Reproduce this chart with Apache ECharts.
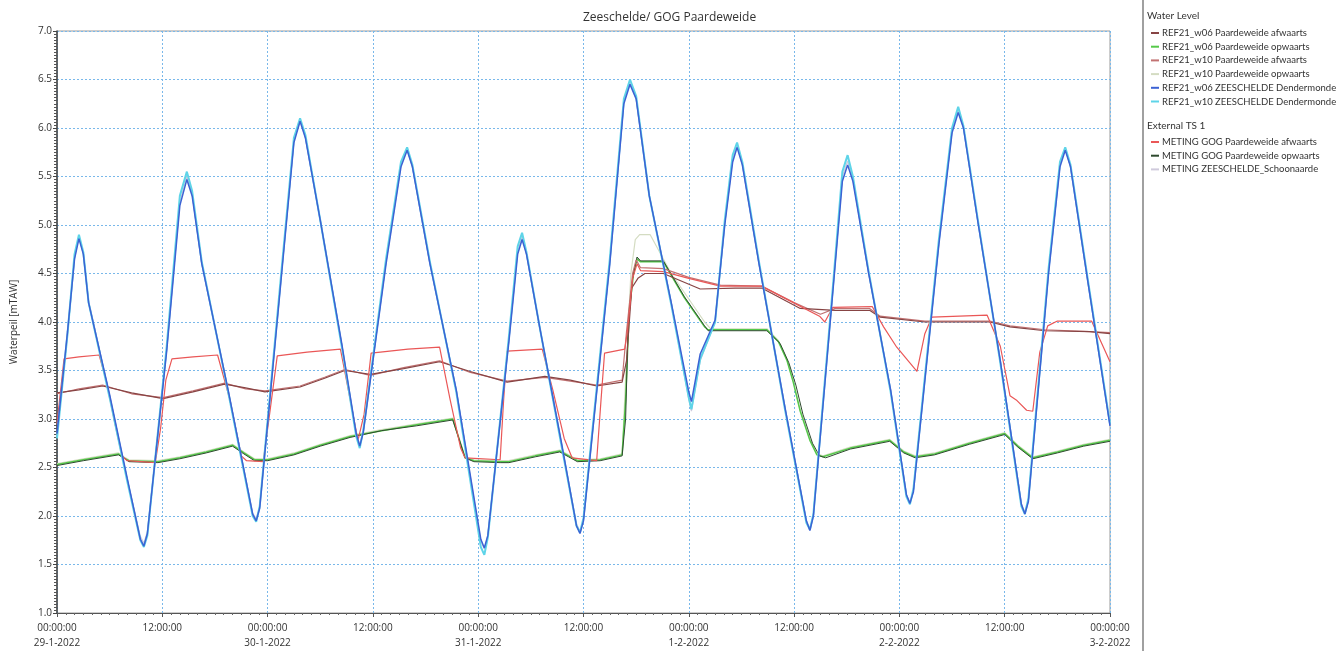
<!DOCTYPE html>
<html>
<head>
<meta charset="utf-8">
<title>Zeeschelde/ GOG Paardeweide</title>
<script src="https://cdn.jsdelivr.net/npm/echarts@6/dist/echarts.min.js"></script>
<style>
  html, body { margin: 0; padding: 0; background: #fff; }
  #chart { width: 1344px; height: 651px; }
</style>
</head>
<body>
<div id="chart"></div>
<script>
// hours since 29-1-2022 00:00, water level in mTAW
var dateLabels = ['29-1-2022', '30-1-2022', '31-1-2022', '1-2-2022', '2-2-2022', '3-2-2022'];

var ref06Afw = [[0,3.27],[2.5,3.3],[5.2,3.34],[8.5,3.27],[12.1,3.21],[15.5,3.28],[19.1,3.36],[21.5,3.32],[23.7,3.28],[27.7,3.33],[30.5,3.42],[32.8,3.5],[35.7,3.46],[39.5,3.52],[43.6,3.59],[47.1,3.49],[51.3,3.38],[55.6,3.44],[58.5,3.4],[61.5,3.34],[64.4,3.38],[64.9,3.6],[65.5,4.35],[66.2,4.45],[67.0,4.5],[69.1,4.5],[73.3,4.34],[77.3,4.35],[80.3,4.35],[84.7,4.14],[88.7,4.12],[92.6,4.12],[93.8,4.05],[98.9,4.0],[106.3,4.0],[108.6,3.95],[112.6,3.91],[117.7,3.9],[120,3.88]];

var ref06Opw = [[0,2.53],[3.0,2.58],[7.0,2.64],[7.6,2.6],[8.2,2.57],[11.5,2.56],[14.0,2.6],[17.0,2.66],[20.0,2.73],[21.3,2.65],[22.5,2.58],[24.0,2.58],[27.0,2.64],[30.0,2.73],[33.4,2.82],[37.0,2.88],[41.0,2.94],[45.1,3.0],[45.8,2.8],[46.5,2.6],[47.5,2.57],[50.5,2.56],[51.5,2.56],[54.5,2.62],[57.3,2.67],[58.3,2.62],[59.3,2.57],[61.9,2.58],[64.4,2.63],[64.8,3.2],[65.2,4.1],[65.7,4.5],[66.1,4.65],[66.5,4.62],[69.1,4.62],[71.5,4.25],[73.8,3.95],[74.2,3.92],[80.9,3.92],[82.2,3.8],[83.2,3.6],[83.9,3.38],[84.7,3.08],[85.8,2.78],[86.6,2.63],[87.3,2.61],[90.4,2.7],[94.9,2.78],[96.5,2.66],[97.8,2.61],[100.0,2.64],[104.0,2.75],[108.0,2.85],[109.5,2.72],[111.2,2.6],[114.0,2.66],[117.0,2.73],[120,2.78]];

var ref10Afw = [[0,3.26],[2.5,3.31],[5.2,3.35],[8.5,3.26],[12.1,3.22],[15.5,3.29],[19.1,3.37],[21.5,3.31],[23.7,3.29],[27.7,3.34],[30.5,3.43],[32.8,3.51],[35.7,3.45],[39.5,3.53],[43.6,3.6],[47.1,3.48],[51.3,3.39],[55.6,3.43],[58.5,3.39],[61.5,3.35],[64.4,3.4],[64.9,3.9],[65.6,4.5],[66.0,4.64],[66.5,4.56],[69.1,4.55],[72.0,4.46],[75.6,4.38],[80.3,4.37],[84.0,4.2],[87.0,4.08],[88.7,4.14],[92.6,4.14],[93.8,4.06],[98.9,4.01],[106.3,4.01],[108.6,3.96],[112.6,3.92],[117.7,3.9],[120,3.89]];

var ref10Opw = [[0,2.54],[3.0,2.59],[7.0,2.65],[7.6,2.61],[8.2,2.58],[11.5,2.57],[14.0,2.61],[17.0,2.67],[20.0,2.74],[21.3,2.66],[22.5,2.59],[24.0,2.59],[27.0,2.65],[30.0,2.74],[33.4,2.83],[37.0,2.89],[41.0,2.95],[45.1,3.01],[45.8,2.81],[46.5,2.61],[47.5,2.58],[50.5,2.57],[51.5,2.57],[54.5,2.63],[57.3,2.68],[58.3,2.63],[59.3,2.58],[61.9,2.59],[64.4,2.64],[64.9,3.6],[65.4,4.5],[65.9,4.85],[66.4,4.9],[67.6,4.9],[70.0,4.5],[73.8,4.0],[74.5,3.93],[80.9,3.93],[82.2,3.81],[83.2,3.61],[83.9,3.39],[84.7,3.09],[85.8,2.79],[86.6,2.64],[87.3,2.62],[90.4,2.71],[94.9,2.79],[96.5,2.67],[97.8,2.62],[100.0,2.65],[104.0,2.76],[108.0,2.86],[109.5,2.73],[111.2,2.61],[114.0,2.67],[117.0,2.74],[120,2.79]];

var ref06Dend = [[0,2.85],[1.2,3.9],[2.0,4.65],[2.5,4.86],[3.0,4.7],[3.6,4.2],[6.0,3.25],[8.0,2.39],[9.5,1.76],[9.9,1.69],[10.3,1.82],[12.5,3.7],[14.0,5.2],[14.8,5.47],[15.4,5.3],[16.5,4.6],[19.5,3.3],[22.3,2.02],[22.7,1.95],[23.1,2.08],[25.5,4.4],[27.0,5.85],[27.7,6.07],[28.3,5.9],[30.0,5.05],[32.5,3.75],[34.1,2.85],[34.5,2.72],[34.9,2.86],[37.5,4.6],[39.2,5.6],[39.9,5.77],[40.5,5.6],[42.5,4.6],[45.5,3.3],[48.3,1.76],[48.7,1.67],[49.1,1.8],[51.5,3.8],[52.5,4.7],[53.0,4.85],[53.5,4.7],[55.0,3.95],[57.5,2.75],[59.2,1.9],[59.6,1.82],[60.0,1.95],[63.0,4.6],[64.6,6.25],[65.3,6.45],[66.0,6.3],[67.5,5.3],[70.0,4.2],[72.0,3.28],[72.3,3.18],[73.3,3.67],[75.0,4.02],[76.1,5.0],[77.0,5.65],[77.5,5.8],[78.1,5.62],[80.0,4.6],[83.0,3.1],[85.4,1.95],[85.8,1.85],[86.2,2.0],[88.5,4.4],[89.5,5.45],[90.1,5.62],[90.7,5.45],[92.5,4.5],[95.0,3.3],[96.8,2.22],[97.2,2.13],[97.6,2.25],[100.5,4.8],[102.0,5.95],[102.7,6.16],[103.3,6.0],[105.0,5.0],[107.5,3.6],[109.9,2.12],[110.3,2.02],[110.7,2.15],[113.0,4.5],[114.3,5.6],[114.9,5.77],[115.5,5.6],[117.5,4.4],[120,2.93]];

var ref10Dend = [[0,2.8],[1.2,3.88],[2.0,4.7],[2.5,4.9],[3.0,4.72],[3.6,4.2],[6.0,3.22],[8.0,2.36],[9.5,1.75],[9.9,1.68],[10.3,1.8],[12.5,3.75],[14.0,5.3],[14.8,5.55],[15.4,5.35],[16.5,4.62],[19.5,3.28],[22.3,2.0],[22.7,1.94],[23.1,2.1],[25.5,4.45],[27.0,5.9],[27.7,6.1],[28.3,5.93],[30.0,5.05],[32.5,3.72],[34.1,2.82],[34.5,2.7],[34.9,2.88],[37.5,4.65],[39.2,5.65],[39.9,5.8],[40.5,5.62],[42.5,4.62],[45.5,3.28],[48.3,1.68],[48.7,1.6],[49.1,1.78],[51.5,3.85],[52.5,4.78],[53.0,4.92],[53.5,4.72],[55.0,3.95],[57.5,2.72],[59.2,1.9],[59.6,1.83],[60.0,1.98],[63.0,4.65],[64.6,6.3],[65.3,6.5],[66.0,6.33],[67.5,5.3],[70.0,4.18],[72.0,3.22],[72.3,3.1],[73.3,3.62],[75.0,4.0],[76.1,5.05],[77.0,5.72],[77.5,5.85],[78.1,5.65],[80.0,4.62],[83.0,3.08],[85.4,1.93],[85.8,1.86],[86.2,2.02],[88.5,4.45],[89.5,5.55],[90.1,5.72],[90.7,5.5],[92.5,4.52],[95.0,3.28],[96.8,2.2],[97.2,2.12],[97.6,2.28],[100.5,4.85],[102.0,6.0],[102.7,6.22],[103.3,6.02],[105.0,5.02],[107.5,3.58],[109.9,2.1],[110.3,2.02],[110.7,2.18],[113.0,4.55],[114.3,5.65],[114.9,5.8],[115.5,5.62],[117.5,4.42],[120,2.95]];

var metAfw = [[0,2.95],[0.8,3.62],[2.5,3.64],[4.8,3.66],[5.6,3.4],[6.5,3.0],[7.4,2.62],[8.0,2.57],[11.2,2.55],[11.8,2.9],[12.4,3.4],[13.1,3.62],[15.5,3.64],[18.3,3.66],[19.7,3.2],[21.0,2.62],[21.6,2.57],[23.5,2.56],[24.3,3.1],[25.1,3.65],[28.5,3.69],[32.3,3.72],[33.2,3.3],[34.3,2.78],[35.0,3.05],[35.8,3.68],[40.0,3.72],[43.6,3.74],[44.8,3.2],[46.0,2.7],[46.5,2.6],[50.5,2.58],[50.9,3.2],[51.3,3.7],[55.3,3.72],[56.5,3.3],[57.8,2.8],[58.7,2.6],[61.5,2.57],[62.0,3.2],[62.4,3.68],[64.7,3.72],[65.0,3.9],[65.6,4.45],[66.1,4.6],[66.5,4.53],[69.1,4.52],[72.0,4.45],[75.6,4.37],[80.3,4.37],[83.9,4.2],[86.9,4.06],[87.5,4.0],[88.4,4.15],[92.9,4.16],[94.2,3.95],[95.7,3.74],[98.0,3.49],[98.9,3.88],[99.7,4.05],[106.0,4.07],[107.5,3.75],[108.6,3.24],[109.4,3.19],[110.5,3.09],[111.2,3.08],[112.0,3.69],[112.9,3.96],[114.0,4.01],[117.9,4.01],[120,3.59]];

var metOpw = [[0,2.52],[3.0,2.57],[7.0,2.63],[7.6,2.6],[8.2,2.56],[11.5,2.55],[14.0,2.59],[17.0,2.65],[20.0,2.72],[21.3,2.64],[22.5,2.57],[24.0,2.57],[27.0,2.63],[30.0,2.72],[33.4,2.81],[37.0,2.88],[41.0,2.93],[45.1,2.99],[45.8,2.8],[46.5,2.6],[47.5,2.56],[50.5,2.55],[51.5,2.55],[54.5,2.61],[57.3,2.66],[58.3,2.61],[59.3,2.56],[61.9,2.57],[64.4,2.62],[64.8,3.0],[65.1,4.0],[65.6,4.45],[66.1,4.67],[66.5,4.63],[69.1,4.63],[71.5,4.26],[73.8,3.96],[74.2,3.91],[80.9,3.91],[82.4,3.78],[83.4,3.58],[84.2,3.35],[85.0,3.05],[86.1,2.75],[86.9,2.62],[87.6,2.6],[90.4,2.69],[94.9,2.77],[96.5,2.65],[97.8,2.6],[100.0,2.63],[104.0,2.74],[108.0,2.84],[109.5,2.71],[111.2,2.59],[114.0,2.65],[117.0,2.72],[120,2.77]];

var metSchoon = [[0,2.82],[1.2,3.86],[2.0,4.66],[2.5,4.88],[3.0,4.71],[3.6,4.22],[6.0,3.24],[8.0,2.38],[9.5,1.79],[9.9,1.72],[10.3,1.84],[12.5,3.72],[14.0,5.24],[14.8,5.5],[15.4,5.32],[16.5,4.6],[19.5,3.3],[22.3,2.03],[22.7,1.97],[23.1,2.1],[25.5,4.42],[27.0,5.87],[27.7,6.08],[28.3,5.9],[30.0,5.05],[32.5,3.74],[34.1,2.84],[34.5,2.74],[34.9,2.88],[37.5,4.62],[39.2,5.62],[39.9,5.78],[40.5,5.6],[42.5,4.6],[45.5,3.3],[48.3,1.74],[48.7,1.66],[49.1,1.8],[51.5,3.82],[52.5,4.73],[53.0,4.88],[53.5,4.7],[55.0,3.95],[57.5,2.74],[59.2,1.92],[59.6,1.84],[60.0,1.97],[63.0,4.62],[64.6,6.27],[65.3,6.47],[66.0,6.3],[67.5,5.3],[70.0,4.2],[72.0,3.2],[72.3,3.08],[73.3,3.6],[75.0,4.0],[76.1,5.02],[77.0,5.68],[77.5,5.82],[78.1,5.62],[80.0,4.6],[83.0,3.1],[85.4,1.95],[85.8,1.87],[86.2,2.02],[88.5,4.42],[89.5,5.5],[90.1,5.66],[90.7,5.48],[92.5,4.5],[95.0,3.3],[96.8,2.22],[97.2,2.14],[97.6,2.27],[100.5,4.82],[102.0,5.97],[102.7,6.18],[103.3,6.0],[105.0,5.0],[107.5,3.6],[109.9,2.13],[110.3,2.04],[110.7,2.17],[113.0,4.52],[114.3,5.62],[114.9,5.79],[115.5,5.6],[117.5,4.4],[120,2.94]];

var FONT = '"Open Sans", "Noto Sans", sans-serif';
var LEGEND_FONT = 'Lato, "Open Sans", sans-serif';
var GRID_BLUE = '#79b8ea';

function line(name, data, color, width, z) {
  return {
    name: name,
    type: 'line',
    data: data,
    showSymbol: false,
    symbol: 'none',
    z: z,
    lineStyle: { color: color, width: width },
    itemStyle: { color: color },
    emphasis: { disabled: true }
  };
}

var legendBase = {
  orient: 'vertical', left: 1146, icon: 'rect', itemWidth: 8, itemHeight: 2, itemGap: 3.7,
  selectedMode: false,
  textStyle: { fontSize: 9.5, color: '#333', fontFamily: LEGEND_FONT, padding: [0, 0, 0, -2] }
};

var chart = echarts.init(document.getElementById('chart'));
chart.setOption({
  animation: false,
  textStyle: { fontFamily: FONT },
  grid: { left: 57, right: 234, top: 31, bottom: 36, show: true, borderColor: '#9a9a9a', borderWidth: 1 },
  graphic: [
    { type: 'text', left: 583, top: 12, style: { text: 'Zeeschelde/ GOG Paardeweide', x: 0, textAlign: 'center', fill: '#333', font: '12px ' + FONT } },
    { type: 'line', shape: { x1: 1143, y1: 0, x2: 1143, y2: 651 }, style: { stroke: '#a0a0a0', lineWidth: 2 } },
    { type: 'text', left: 1147, top: 11, style: { text: 'Water Level', fill: '#333', font: '10px ' + LEGEND_FONT } },
    { type: 'text', left: 1147, top: 121, style: { text: 'External TS 1', fill: '#333', font: '10px ' + LEGEND_FONT } }
  ],
  legend: [
    Object.assign({}, legendBase, {
      top: 23,
      data: ['REF21_w06 Paardeweide afwaarts', 'REF21_w06 Paardeweide opwaarts', 'REF21_w10 Paardeweide afwaarts',
             'REF21_w10 Paardeweide opwaarts', 'REF21_w06 ZEESCHELDE Dendermonde', 'REF21_w10 ZEESCHELDE Dendermonde']
    }),
    Object.assign({}, legendBase, {
      top: 132,
      data: ['METING GOG Paardeweide afwaarts', 'METING GOG Paardeweide opwaarts', 'METING ZEESCHELDE_Schoonaarde']
    })
  ],
  xAxis: {
    type: 'value', min: 0, max: 120, interval: 12,
    axisLine: { lineStyle: { color: '#555' } },
    axisTick: { show: true, length: 4, lineStyle: { color: '#555' } },
    minorTick: { show: true, splitNumber: 12, length: 2, lineStyle: { color: '#666' } },
    splitLine: { show: true, lineStyle: { color: GRID_BLUE, type: [2, 2], width: 1 } },
    axisLabel: {
      fontSize: 10, color: '#333', lineHeight: 15, margin: 8,
      formatter: function (v) {
        if (v % 24 === 0) return '00:00:00\n' + dateLabels[v / 24];
        return '12:00:00';
      }
    }
  },
  yAxis: {
    type: 'value', min: 1, max: 7, interval: 0.5,
    name: 'Waterpeil [mTAW]', nameLocation: 'middle', nameGap: 38,
    nameTextStyle: { fontSize: 10, color: '#333' },
    axisLine: { show: true, lineStyle: { color: '#444', width: 1.5 } },
    axisTick: { show: true, length: 4, lineStyle: { color: '#444' } },
    minorTick: { show: true, splitNumber: 16, length: 3, lineStyle: { color: '#555' } },
    splitLine: { show: true, lineStyle: { color: GRID_BLUE, type: [2, 2], width: 1 } },
    axisLabel: { fontSize: 10, color: '#333', margin: 5, formatter: function (v) { return v.toFixed(1); } }
  },
  series: [
    line('REF21_w10 Paardeweide opwaarts', ref10Opw, '#d4dcc2', 1.2, 1),
    line('REF21_w06 Paardeweide opwaarts', ref06Opw, '#55c94a', 1.5, 2),
    line('METING GOG Paardeweide opwaarts', metOpw, '#2e4a2e', 1, 3),
    line('REF21_w10 Paardeweide afwaarts', ref10Afw, '#c27272', 1.2, 3),
    line('REF21_w06 Paardeweide afwaarts', ref06Afw, '#874444', 1.2, 3),
    line('METING GOG Paardeweide afwaarts', metAfw, '#ea5757', 1.2, 4),
    line('METING ZEESCHELDE_Schoonaarde', metSchoon, '#cfcadc', 1.2, 5),
    line('REF21_w10 ZEESCHELDE Dendermonde', ref10Dend, '#5ed4e8', 2, 6),
    line('REF21_w06 ZEESCHELDE Dendermonde', ref06Dend, '#3c62d4', 1.5, 7)
  ]
});
</script>
</body>
</html>
